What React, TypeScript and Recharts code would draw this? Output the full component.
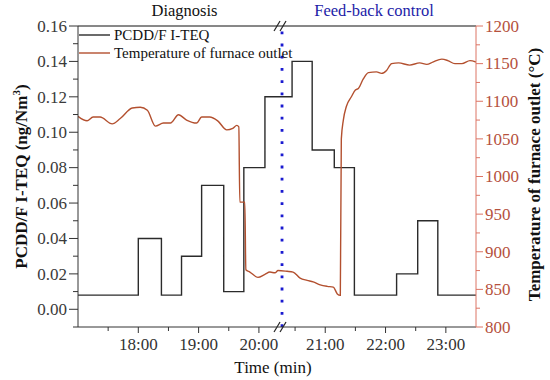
import { ComposedChart, Label, Line, ReferenceLine, XAxis, YAxis } from "recharts";

const SERIF = '"Liberation Serif", "Times New Roman", serif';
const serif = { fontFamily: SERIF };

// PCDD/F I-TEQ step changes (clock time -> ng/Nm3)
const teqTimes = ["17:00", "18:00", "18:23", "18:43", "19:03", "19:25", "19:45", "20:06", "20:27", "20:47", "21:09", "21:29", "22:11", "22:32", "22:52", "23:30"];
const teqValues = [0.008, 0.04, 0.008, 0.03, 0.07, 0.01, 0.08, 0.12, 0.14, 0.09, 0.08, 0.008, 0.02, 0.05, 0.008, 0.008];

// furnace outlet temperature (clock time -> °C)
const tempTimes = [
  "17:00", "17:09", "17:15", "17:22", "17:34", "17:42", "17:54", "18:02", "18:09", "18:17",
  "18:25", "18:32", "18:40", "18:48", "18:58", "19:03", "19:11", "19:19", "19:28", "19:34",
  "19:38", "19:40", "19:41", "19:46", "19:47", "19:51", "19:59", "20:06", "20:11", "20:16",
  "20:19", "20:22", "20:28", "20:35", "20:42", "20:48", "20:55", "21:02", "21:08", "21:12",
  "21:15", "21:16", "21:18", "21:21", "21:26", "21:30", "21:33", "21:38", "21:43", "21:51",
  "21:56", "22:01", "22:06", "22:13", "22:24", "22:34", "22:41", "22:47", "22:56", "23:02",
  "23:09", "23:16", "23:24", "23:30",
];
const tempValues = [
  1080, 1074, 1079, 1079, 1070, 1077, 1091, 1092, 1088, 1067,
  1071, 1071, 1082, 1075, 1071, 1079, 1079, 1074, 1062, 1064,
  1068, 1066, 966, 966, 876, 873, 866, 870, 873, 872,
  875, 874, 873, 865, 862, 860, 856, 854, 853, 844,
  842, 1050, 1075, 1093, 1106, 1115, 1117, 1130, 1138, 1139,
  1137, 1141, 1150, 1151, 1148, 1151, 1149, 1152, 1156, 1154,
  1150, 1150, 1154, 1152,
];

const timeMajor = ["18:00", "19:00", "20:00", "21:00", "22:00", "23:00"];
const timeMinor = ["17:30", "18:30", "19:30", "20:30", "21:30", "22:30"];
const teqMajor = [0, 0.02, 0.04, 0.06, 0.08, 0.1, 0.12, 0.14, 0.16];
const teqMinor = [-0.01, 0.01, 0.03, 0.05, 0.07, 0.09, 0.11, 0.13, 0.15];
const tempMajor = [800, 850, 900, 950, 1000, 1050, 1100, 1150, 1200];
const tempMinor = [825, 875, 925, 975, 1025, 1075, 1125, 1175];

const BREAK_AT = "20:20";
const BREAK_GAP = 6; // axis minutes inserted at the break

const toMin = (s: string) => {
  const [h, m] = s.split(":").map(Number);
  return h * 60 + m;
};
const axisPos = (s: string) => (toMin(s) < toMin(BREAK_AT) ? toMin(s) : toMin(s) + BREAK_GAP);

const teqData = teqTimes.map((t, i) => ({ x: axisPos(t), teq: teqValues[i] }));
const tempData = tempTimes.map((t, i) => ({ x: axisPos(t), temp: tempValues[i] }));
const xTicks = [...timeMinor, ...timeMajor].map(axisPos).sort((a, b) => a - b);
const xLabels = new Map(timeMajor.map((t) => [axisPos(t), t]));
const breakX = axisPos(BREAK_AT) - BREAK_GAP / 2;

const TEQ_COLOR = "#2b2b2b";
const TEMP_COLOR = "#b3502f";
const RIGHT_AXIS = "#dc7464";
const RIGHT_TEXT = "#b5513d";

function TimeTick({ x, y, payload }: any) {
  const label = xLabels.get(payload.value);
  return (
    <g>
      <line x1={x} x2={x} y1={y} y2={y + (label ? 6 : 4)} stroke="#333" />
      {label && (
        <text x={x} y={y + 23} textAnchor="middle" fill="#333" fontSize={17} style={serif}>
          {label}
        </text>
      )}
    </g>
  );
}

function TeqTick({ x, y, payload }: any) {
  const major = teqMajor.includes(payload.value);
  return (
    <g>
      <line x1={x} x2={x - (major ? 9 : 5)} y1={y} y2={y} stroke="#333" />
      {major && (
        <text x={x - 11} y={y} dy="0.34em" textAnchor="end" fill="#3a3a3a" fontSize={17} style={serif}>
          {payload.value.toFixed(2)}
        </text>
      )}
    </g>
  );
}

function TempTick({ x, y, payload }: any) {
  const major = tempMajor.includes(payload.value);
  return (
    <g>
      <line x1={x} x2={x + (major ? 7 : 4)} y1={y} y2={y} stroke={RIGHT_AXIS} />
      {major && (
        <text x={x + 9} y={y} dy="0.34em" textAnchor="start" fill={RIGHT_TEXT} fontSize={17} style={serif}>
          {payload.value}
        </text>
      )}
    </g>
  );
}

function BreakMarks({ viewBox }: any) {
  const { x, y, height } = viewBox;
  return (
    <g stroke="#222" strokeWidth={1.2}>
      {[y, y + height].map((my: number) => (
        <g key={my}>
          <line x1={x - 8} y1={my + 5} x2={x - 2} y2={my - 5} />
          <line x1={x - 2} y1={my + 5} x2={x + 4} y2={my - 5} />
        </g>
      ))}
    </g>
  );
}

export default function App() {
  return (
    <div style={{ position: "absolute", left: 0, top: 0, width: 550, height: 380, background: "#fff" }}>
      <ComposedChart width={550} height={380} margin={{ top: 26, right: 24, bottom: 23, left: 28 }}>
        <XAxis
          type="number"
          dataKey="x"
          domain={[axisPos("17:00"), axisPos("23:30")]}
          ticks={xTicks}
          interval={0}
          tickSize={0}
          tickMargin={0}
          tickLine={false}
          tick={<TimeTick />}
          height={30}
          axisLine={{ stroke: "#333" }}
          allowDataOverflow
        >
          <Label
            content={({ viewBox }: any) => (
              <text
                x={viewBox.x + viewBox.width / 2 - 4}
                y={viewBox.y + 46}
                textAnchor="middle"
                fontSize={17}
                style={serif}
                fill="#111"
              >
                Time (min)
              </text>
            )}
          />
        </XAxis>
        <YAxis
          yAxisId="teq"
          domain={[-0.01, 0.16]}
          ticks={[...teqMinor, ...teqMajor]}
          interval={0}
          tickSize={0}
          tickMargin={0}
          tickLine={false}
          tick={<TeqTick />}
          width={50}
          axisLine={{ stroke: "#333" }}
          allowDataOverflow
        >
          <Label
            content={({ viewBox }: any) => (
              <text
                transform={`translate(${viewBox.x - 1}, ${viewBox.y + viewBox.height / 2}) rotate(-90)`}
                textAnchor="middle"
                fontSize={17}
                fontWeight="bold"
                style={serif}
                fill="#111"
              >
                PCDD/F I-TEQ (ng/Nm
                <tspan dy={-7} fontSize={11}>3</tspan>
                <tspan dy={7}>)</tspan>
              </text>
            )}
          />
        </YAxis>
        <YAxis
          yAxisId="temp"
          orientation="right"
          domain={[800, 1200]}
          ticks={[...tempMinor, ...tempMajor]}
          interval={0}
          tickSize={0}
          tickMargin={0}
          tickLine={false}
          tick={<TempTick />}
          width={50}
          axisLine={{ stroke: RIGHT_AXIS }}
          allowDataOverflow
        >
          <Label
            content={({ viewBox }: any) => (
              <text
                transform={`translate(${viewBox.x + 64}, ${viewBox.y + viewBox.height / 2 - 2}) rotate(-90)`}
                textAnchor="middle"
                fontSize={17}
                fontWeight="bold"
                style={serif}
                fill="#111"
              >
                Temperature of furnace outlet (°C)
              </text>
            )}
          />
        </YAxis>
        <ReferenceLine yAxisId="teq" y={0.16} stroke="#111" strokeWidth={1} />
        <Line
          yAxisId="teq"
          data={teqData}
          dataKey="teq"
          type="stepAfter"
          stroke={TEQ_COLOR}
          strokeWidth={1.4}
          dot={false}
          isAnimationActive={false}
        />
        <Line
          yAxisId="temp"
          data={tempData}
          dataKey="temp"
          type="monotone"
          stroke={TEMP_COLOR}
          strokeWidth={1.4}
          dot={false}
          isAnimationActive={false}
        />
        <ReferenceLine
          yAxisId="teq"
          x={breakX}
          stroke="#1a1ad0"
          strokeWidth={2.8}
          strokeDasharray="2.8 9.4"
          label={<BreakMarks />}
        />
      </ComposedChart>
      <svg
        width={550}
        height={380}
        style={{ position: "absolute", left: 0, top: 0, pointerEvents: "none", fontFamily: SERIF }}
      >
        <text x={184.5} y={16} textAnchor="middle" fontSize={16.5} fill="#111" style={serif}>
          Diagnosis
        </text>
        <text x={374} y={16} textAnchor="middle" fontSize={16.5} fill="#1c1ca8" style={serif}>
          Feed-back control
        </text>
        <line x1={79} x2={110} y1={35} y2={35} stroke={TEQ_COLOR} strokeWidth={1.4} />
        <text x={114} y={35} dy="0.34em" fontSize={15} fill="#111" style={serif}>
          PCDD/F I-TEQ
        </text>
        <line x1={79} x2={110} y1={53} y2={53} stroke={TEMP_COLOR} strokeWidth={1.4} />
        <text x={114} y={53} dy="0.34em" fontSize={15} fill="#111" style={serif}>
          Temperature of furnace outlet
        </text>
      </svg>
    </div>
  );
}
